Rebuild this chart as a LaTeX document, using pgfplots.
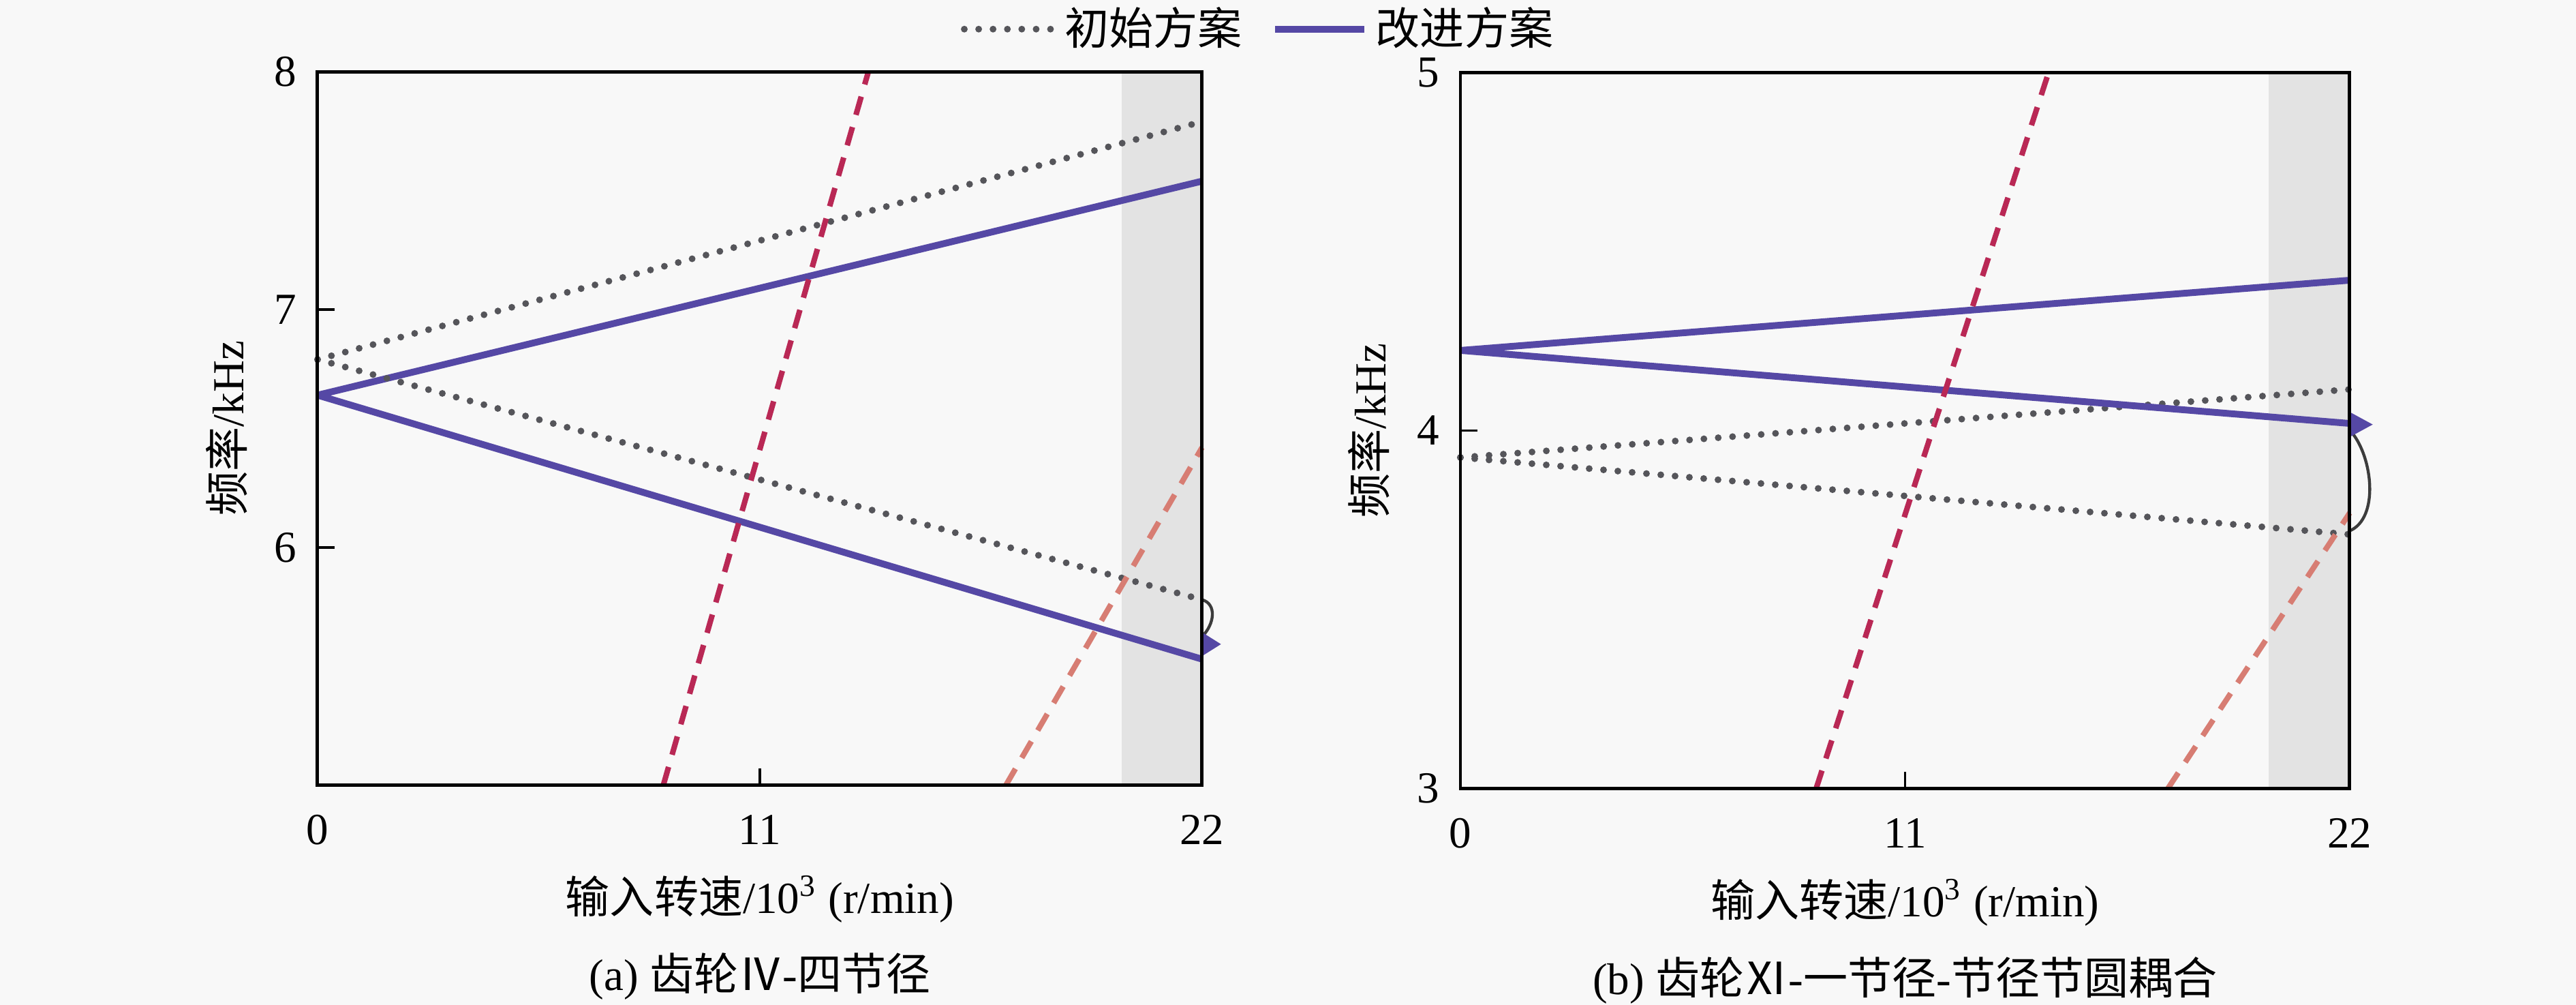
\documentclass[border=0pt]{standalone}
\usepackage{fontspec}
\setmainfont{Liberation Serif}
\newfontfamily\cjk{Noto Sans CJK SC}
\usepackage{pgfplots}
\pgfplotsset{compat=1.18}
\definecolor{solidc}{RGB}{85,72,165}
\definecolor{dotc}{RGB}{85,85,90}
\definecolor{redc}{RGB}{185,40,85}
\definecolor{pinkc}{RGB}{215,125,115}
\definecolor{shadec}{RGB}{227,227,227}
\definecolor{bgc}{RGB}{248,248,248}
\definecolor{arcc}{RGB}{60,60,60}
\newcommand\fs{\fontsize{10.5}{12.6}\selectfont}
\pgfplotsset{
  common/.style={
    scale only axis, clip=false, axis on top=true,
    xmin=0, xmax=22, xtick={0,11,22},
    tick align=inside, tick pos=left, major tick length=4pt,
    axis line style={black, line width=0.8pt},
    tick style={black, line width=0.6pt},
    /pgf/number format/assume math mode=true,
    tick label style={font=\fs},
    label style={font=\fs},
    yticklabel style={xshift=-1.5pt},
    xticklabel style={yshift=-3.5pt},
    ylabel style={at={(axis description cs:-0.103,0.5)}, anchor=center},
    xlabel style={at={(axis description cs:0.5,0)}, anchor=center, yshift=-27pt},
    xlabel={{\cjk 输入转速}/10\textsuperscript{3} (r/min)},
    ylabel={{\cjk 频率}/kHz},
  },
  dotsty/.style={color=dotc, line width=1.6pt, line cap=round, dash pattern=on 0pt off 3.4pt},
  solsty/.style={color=solidc, line width=1.6pt},
  dashsty/.style={line width=1.3pt, dash pattern=on 4.5pt off 3pt},
}
\begin{document}
\begin{tikzpicture}[font=\fs]
\useasboundingbox (0,0) rectangle (609.7pt,237.7pt);
\fill[bgc] (0,0) rectangle (609.7pt,237.7pt);

% ---------- (a) ----------
\begin{axis}[common,
  at={(75.16pt,51.94pt)}, anchor=south west,
  width=209.35pt, height=168.79pt,
  ymin=5, ymax=8, ytick={6,7,8},
  legend style={at={(1.067,1.0597)}, anchor=center, draw=none, fill=none,
    legend columns=2, font=\fs,
    /tikz/every even column/.append style={column sep=5pt}},
  legend image code/.code={\draw[#1] (0pt,0pt) -- (21pt,0pt);},
]
\addplot[fill=shadec, draw=none, forget plot] coordinates {(20,5) (22,5) (22,8) (20,8)} -- cycle;
\addplot[dotsty] coordinates {(0,6.79) (22,7.79)};
\addlegendentry{\cjk 初始方案}
\addplot[solsty] coordinates {(0,6.64) (22,7.54)};
\addlegendentry{\cjk 改进方案}
\addplot[dotsty, forget plot] coordinates {(0,6.79) (22,5.78)};
\addplot[solsty, forget plot] coordinates {(0,6.64) (22,5.53)};
\addplot[dashsty, color=redc, forget plot] coordinates {(8.6,5) (13.7,8)};
\addplot[dashsty, color=pinkc, forget plot] coordinates {(17.12,5) (22,6.42)};
\draw[arcc, line width=0.7pt] (axis cs:22,5.78) .. controls +(3.5pt,-1pt) and +(3pt,3pt) .. (axis cs:22,5.625);
\fill[solidc] (axis cs:22,5.643) -- (axis cs:22.47,5.593) -- (axis cs:22,5.543) -- cycle;
\node[font=\fs, anchor=center] at (axis description cs:0.5,0) [yshift=-45.3pt] {(a) {\cjk 齿轮Ⅳ}-{\cjk 四节径}};
\end{axis}

% ---------- (b) ----------
\begin{axis}[common,
  at={(345.65pt,51.13pt)}, anchor=south west,
  width=210.48pt, height=169.4pt,
  ymin=3, ymax=5, ytick={3,4,5},
]
\addplot[fill=shadec, draw=none] coordinates {(20,3) (22,3) (22,5) (20,5)} -- cycle;
\addplot[dotsty] coordinates {(0,3.925) (22,4.115)};
\addplot[dotsty] coordinates {(0,3.925) (22,3.71)};
\addplot[solsty] coordinates {(0,4.224) (22,4.42)};
\addplot[solsty] coordinates {(0,4.224) (22,4.02)};
\addplot[dashsty, color=redc] coordinates {(8.8,3) (14.55,5)};
\addplot[dashsty, color=pinkc] coordinates {(17.5,3) (22,3.77)};
\draw[arcc, line width=0.7pt] (axis cs:22,3.72) .. controls +(7pt,3pt) and +(5pt,-6pt) .. (axis cs:22.05,3.995);
\fill[solidc] (axis cs:22,4.052) -- (axis cs:22.57,4.017) -- (axis cs:22,3.982) -- cycle;
\node[font=\fs, anchor=center] at (axis description cs:0.5,0) [yshift=-45.3pt] {(b) {\cjk 齿轮Ⅺ}-{\cjk 一节径}-{\cjk 节径节圆耦合}};
\end{axis}
\end{tikzpicture}
\end{document}
